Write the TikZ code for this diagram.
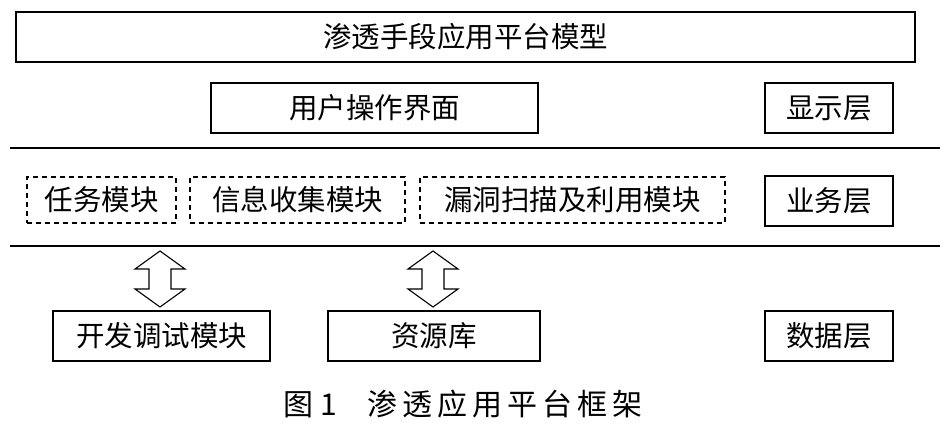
\documentclass[tikz,border=0pt]{standalone}
\usepackage{fontspec}
\setmainfont{Noto Sans CJK SC}
\begin{document}
\begin{tikzpicture}[x=1pt,y=-1pt,
  box/.style={draw,line width=1.2pt,inner sep=0pt,font=\fontsize{28.5}{30}\selectfont},
  dbox/.style={box,dashed,dash pattern=on 5pt off 4pt},
  hollow/.style={draw,line width=1.1pt,fill=white}]
\useasboundingbox (0,0) rectangle (950,435);
\node[box,minimum width=899,minimum height=50] (top) at (465.5,37) {渗透手段应用平台模型};
\node[box,minimum width=327,minimum height=50] (ui) at (374.5,108) {用户操作界面};
\node[box,minimum width=128,minimum height=50] (l1) at (829,108) {显示层};
\coordinate (a1) at (10,148); \coordinate (a2) at (940,148);
\draw[line width=1.2pt] (a1) -- (a2);
\node[dbox,minimum width=149,minimum height=46] (t) at (101.5,200) {任务模块};
\node[dbox,minimum width=215,minimum height=46] (i) at (297.5,200) {信息收集模块};
\node[dbox,minimum width=305,minimum height=46] (v) at (572.5,200) {漏洞扫描及利用模块};
\node[box,minimum width=128,minimum height=50] (l2) at (829,201) {业务层};
\coordinate (b1) at (10,246); \coordinate (b2) at (940,246);
\draw[line width=1.2pt] (b1) -- (b2);
\node[box,minimum width=217,minimum height=50] (dev) at (161.5,336) {开发调试模块};
\node[box,minimum width=212,minimum height=50] (res) at (434,336) {资源库};
\node[box,minimum width=128,minimum height=50] (l3) at (829,336) {数据层};
\foreach \cx in {160,433}{
  \draw[hollow] (\cx,251) -- (\cx+25,269) -- (\cx+11,269) -- (\cx+11,289) -- (\cx+25,289)
    -- (\cx,307) -- (\cx-25,289) -- (\cx-11,289) -- (\cx-11,269) -- (\cx-25,269) -- cycle;
}
\node[font=\fontsize{30}{32}\selectfont] (cap) at (463,404) {图 1\hspace{1em}渗\,透\,应\,用\,平\,台\,框\,架};
\end{tikzpicture}
\end{document}
